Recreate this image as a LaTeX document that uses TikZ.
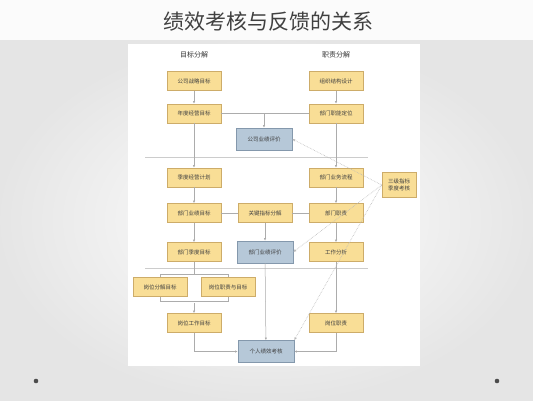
\documentclass[tikz,border=0pt]{standalone}
\usepackage{fontspec}
\newfontfamily\cjk{Noto Sans CJK SC}
\usetikzlibrary{arrows.meta}

\definecolor{goal}{RGB}{249,222,150}
\definecolor{goalline}{RGB}{205,172,105}
\definecolor{eval}{RGB}{182,200,216}
\definecolor{evalline}{RGB}{132,152,172}
\colorlet{link}{gray!65}
\tikzset{
  goal/.style={rectangle,fill=goal,draw=goalline,minimum width=54pt,minimum height=19pt,
    inner sep=1pt,font=\cjk\fontsize{5.5}{6.5}\selectfont,text=black!75},
  eval/.style={goal,fill=eval,draw=evalline,minimum width=56pt,minimum height=22pt},
  head/.style={font=\cjk\fontsize{7}{8}\selectfont,text=black!80},
  func/.style={-{Latex[length=2.6pt,width=2.2pt]},link,line width=0.5pt},
  plain/.style={link,line width=0.5pt},
  feed/.style={-{Latex[length=3pt,width=2.6pt]},gray!55,densely dotted,line width=0.6pt},
}

\begin{document}
\begin{tikzpicture}[x=1pt,y=-1pt]
  \useasboundingbox (0,0) rectangle (533,400);
  % slide background
  \shade[inner color=white,outer color=gray!20] (0,40) rectangle (533,400);
  \fill[gray!3] (0,0) rectangle (533,40);
  \fill[white] (128,44) rectangle (420,366);
  \node[font=\cjk\fontsize{21}{24}\selectfont,text=black!75] (title) at (268,22) {绩效考核与反馈的关系};
  \fill[gray!60!black] (36,381) circle (2.3);
  \fill[gray!60!black] (497,381) circle (2.3);

  % stage separators
  \coordinate (sepa) at (145,157);
  \coordinate (sepb) at (145,268);
  \draw[gray!40,line width=0.8pt] (sepa) -- ++(223,0);
  \draw[gray!40,line width=0.8pt] (sepb) -- ++(223,0);

  \node[head] (goalhead) at (194,55) {目标分解};
  \node[head] (dutyhead) at (336,55) {职责分解};

  % goal column
  \node[goal] (goal1) at (194,81) {公司战略目标};
  \node[goal] (goal2) at (194,113.5) {年度经营目标};
  \node[goal] (goal3) at (194,177.5) {季度经营计划};
  \node[goal] (goal4) at (194,213) {部门业绩目标};
  \node[goal] (goal5) at (194,252) {部门季度目标};
  \node[goal] (post1) at (160,287) {岗位分解目标};
  \node[goal] (post2) at (228,287) {岗位职责与目标};
  \node[goal] (goal6) at (194,323) {岗位工作目标};

  % duty column
  \node[goal] (duty1) at (336,81) {组织结构设计};
  \node[goal] (duty2) at (336,113.5) {部门职能定位};
  \node[goal] (duty3) at (336,177.5) {部门业务流程};
  \node[goal] (duty4) at (336,213) {部门职责};
  \node[goal] (duty5) at (336,252) {工作分析};
  \node[goal] (duty6) at (336,323) {岗位职责};

  % evaluation column
  \node[eval] (eval1) at (264,139) {公司业绩评价};
  \node[goal] (keyind) at (265,213) {关键指标分解};
  \node[eval] (eval2) at (265,252) {部门业绩评价};
  \node[eval] (eval3) at (266,351.5) {个人绩效考核};
  \node[goal,minimum width=34pt,minimum height=25pt,align=center] (check) at (399,185) {三级指标\\季度考核};

  \draw[func] (goal1) -- (goal2);
  \draw[func] (goal2) -- (goal3);
  \draw[func] (goal3) -- (goal4);
  \draw[func] (goal4) -- (goal5);
  \coordinate (splittop) at (194,274);
  \coordinate (splitbot) at (194,303);
  \draw[plain] (goal5) -- (splittop);
  \draw[plain] (post1.north) -- ++(0,-3) -| (post2.north);
  \draw[plain] (post1.south) -- ++(0,5) -| (post2.south);
  \draw[func] (splitbot) -- (goal6);

  \draw[func] (duty1) -- (duty2);
  \draw[func] (duty2) -- (duty3);
  \draw[func] (duty3) -- (duty4);
  \draw[func] (duty4) -- (duty5);
  \draw[func] (duty5) -- (duty6);

  \draw[plain] (goal2) -- (duty2);
  \draw[func] (goal2 -| eval1) -- (eval1);
  \draw[plain] (goal4) -- (keyind);
  \draw[plain] (keyind) -- (duty4);
  \draw[func] (keyind) -- (eval2);
  \draw[func] (eval2) -- (eval3);
  \draw[func] (goal6.south) |- (eval3.west);
  \draw[func] (duty6.south) |- (eval3.east);

  \draw[feed] (check.west) -- (eval1.east);
  \draw[feed] (check.west) -- (eval2.east);
  \draw[feed] (check.west) -- (eval3.north east);
\end{tikzpicture}
\end{document}
